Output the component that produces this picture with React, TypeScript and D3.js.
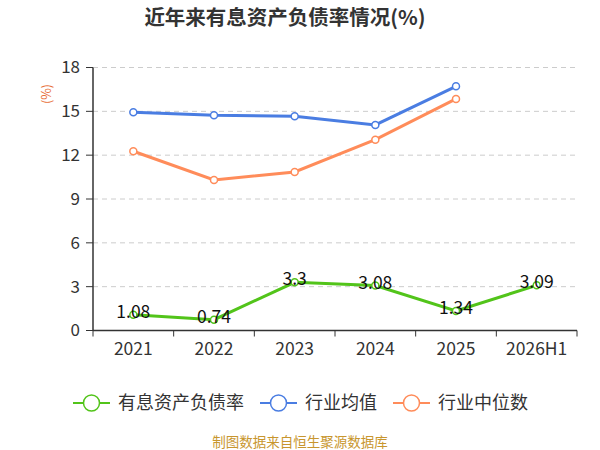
import React from "react";
import * as d3 from "d3";

const categories = ["2021", "2022", "2023", "2024", "2025", "2026H1"];
const debtRatio = [1.08, 0.74, 3.3, 3.08, 1.34, 3.09];
const industryAvg: (number | null)[] = [14.93, 14.73, 14.66, 14.07, 16.71, null];
const industryMedian: (number | null)[] = [12.27, 10.3, 10.85, 13.06, 15.85, null];
const yTicks = [0, 3, 6, 9, 12, 15, 18];
const seriesNames = ["有息资产负债率", "行业均值", "行业中位数"];
const colors = ["#52c41a", "#4a7de2", "#ff8c5a"];

const W = 600, H = 450;
const left = 93, right = 577, top = 67.5, bottom = 330.5;

export default function App() {
  const x = d3.scaleBand().domain(categories).range([left, right]);
  const y = d3.scaleLinear().domain([0, 18]).range([bottom, top]);
  const cx = (c: string) => (x(c) as number) + x.bandwidth() / 2;
  const line = d3
    .line<{ c: string; v: number | null }>()
    .defined((d) => d.v != null)
    .x((d) => cx(d.c))
    .y((d) => y(d.v as number));
  const all = [debtRatio, industryAvg, industryMedian];
  const font = "'Noto Sans CJK SC', 'Noto Sans', sans-serif";
  const legendX = [73, 260, 393];
  return (
    <svg width={W} height={H} style={{ position: "absolute", left: 0, top: 0, fontFamily: font }}>
      <rect width={W} height={H} fill="#fff" />
      <text x={285} y={25} textAnchor="middle" fontSize={20.5} fontWeight="bold" fill="#333">
        近年来有息资产负债率情况(%)
      </text>
      <text
        transform={`translate(47,94) rotate(-90)`}
        textAnchor="middle"
        dy="0.35em"
        fontSize={12.5}
        fill="#e8703a"
      >
        (%)
      </text>
      {yTicks.map((t) => (
        <g key={t}>
          {t > 0 && (
            <line x1={left} x2={right - 2} y1={y(t)} y2={y(t)} stroke="#ccc" strokeDasharray="5,4" />
          )}
          <line x1={left - 7} x2={left} y1={y(t)} y2={y(t)} stroke="#333" />
          <text x={left - 13} y={y(t)} dy="0.35em" textAnchor="end" fontSize={17} fill="#333">
            {t}
          </text>
        </g>
      ))}
      <line x1={left} x2={left} y1={top} y2={bottom} stroke="#333" strokeWidth={1.5} />
      <line x1={left} x2={right} y1={bottom} y2={bottom} stroke="#333" strokeWidth={1.5} />
      {categories.map((c, i) => (
        <g key={c}>
          <line x1={x(c) as number} x2={x(c) as number} y1={bottom} y2={bottom + 6} stroke="#333" />
          {i === categories.length - 1 && (
            <line x1={right} x2={right} y1={bottom} y2={bottom + 6} stroke="#333" />
          )}
          <text x={cx(c)} y={bottom + 24.5} textAnchor="middle" fontSize={17.5} fill="#333">
            {c}
          </text>
        </g>
      ))}
      {all.map((s, si) => {
        const data = categories.map((c, i) => ({ c, v: s[i] }));
        return (
          <g key={si}>
            <path d={line(data) || ""} fill="none" stroke={colors[si]} strokeWidth={3} />
            {data
              .filter((d) => d.v != null)
              .map((d) => (
                <circle
                  key={d.c}
                  cx={cx(d.c)}
                  cy={y(d.v as number)}
                  r={3.5}
                  fill="#fff"
                  stroke={colors[si]}
                  strokeWidth={1.5}
                />
              ))}
          </g>
        );
      })}
      {categories.map((c, i) => (
        <text
          key={c}
          x={cx(c)}
          y={y(debtRatio[i]) - 3}
          dy="0.35em"
          textAnchor="middle"
          fontSize={17.5}
          fill="#111"
        >
          {debtRatio[i]}
        </text>
      ))}
      {seriesNames.map((n, i) => (
        <g key={n} transform={`translate(${legendX[i]},403)`}>
          <line x1={0} x2={37} y1={0} y2={0} stroke={colors[i]} strokeWidth={2} />
          <circle cx={18.5} cy={0} r={8} fill="#fff" stroke={colors[i]} strokeWidth={1.5} />
          <text x={45} y={0} dy="0.35em" fontSize={18} fill="#333">
            {n}
          </text>
        </g>
      ))}
      <text x={300} y={442} dy="0.35em" textAnchor="middle" fontSize={13.5} fill="#c8962e">
        制图数据来自恒生聚源数据库
      </text>
    </svg>
  );
}
